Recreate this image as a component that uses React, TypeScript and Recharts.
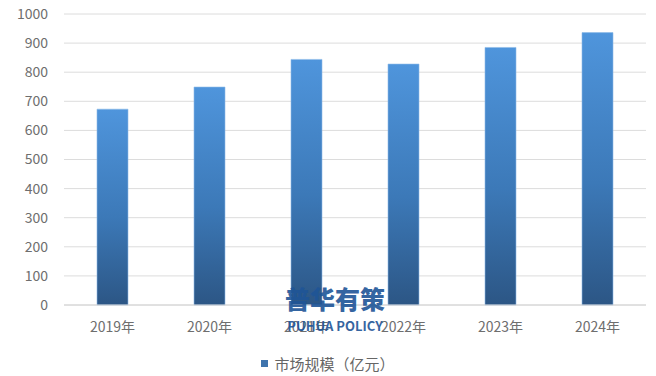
import React from 'react';
import { BarChart, Bar, XAxis, YAxis, CartesianGrid } from 'recharts';

// 市场规模（亿元），逐年
const YEARS = ['2019年', '2020年', '2021年', '2022年', '2023年', '2024年'];
const MARKET_SIZE = [673, 749, 844, 828, 885, 936];
const Y_TICKS = [0, 100, 200, 300, 400, 500, 600, 700, 800, 900, 1000];

const SERIES_NAME = '市场规模（亿元）';
const FONT = '"Noto Sans CJK SC", "Noto Sans", sans-serif';

const chartData = YEARS.map((year, i) => ({ year, value: MARKET_SIZE[i] }));

const App: React.FC = () => {
  return (
    <div style={{ position: 'fixed', left: 0, top: 0, width: 656, height: 376, background: '#fff' }}>
      <BarChart
        width={656}
        height={376}
        data={chartData}
        margin={{ top: 14, right: 10, left: 0, bottom: 41 }}
      >
        <defs>
          <linearGradient id="barFill" x1="0" y1="0" x2="0" y2="1">
            <stop offset="0%" stopColor="#4f95dc" />
            <stop offset="55%" stopColor="#3c79b8" />
            <stop offset="100%" stopColor="#2c5685" />
          </linearGradient>
        </defs>
        <CartesianGrid vertical={false} stroke="#dcdcdc" />
        <XAxis
          dataKey="year"
          height={30}
          axisLine={{ stroke: '#d4d4d4' }}
          tickLine={false}
          tickSize={6}
          tickMargin={11}
          tick={{ fill: '#6e6e6e', fontSize: 14, fontFamily: FONT }}
          interval={0}
        />
        <YAxis
          width={64}
          domain={[0, 1000]}
          ticks={Y_TICKS}
          axisLine={false}
          tickLine={false}
          tickSize={6}
          tickMargin={10}
          tick={{ fill: '#6e6e6e', fontSize: 14, fontFamily: FONT }}
        />
        <Bar
          dataKey="value"
          name={SERIES_NAME}
          fill="url(#barFill)"
          stroke="#8dbbe8"
          strokeWidth={0.6}
          barSize={31}
          isAnimationActive={false}
        />
      </BarChart>
      {/* legend */}
      <div
        style={{
          position: 'absolute',
          left: 0,
          top: 353,
          width: 656,
          display: 'flex',
          justifyContent: 'center',
          alignItems: 'center',
          fontFamily: FONT,
          fontSize: 15,
          color: '#666',
        }}
      >
        <span style={{ display: 'inline-block', width: 7, height: 7, background: '#3f74ad', marginRight: 6 }} />
        <span>{SERIES_NAME}</span>
      </div>
      {/* watermark */}
      <div
        style={{
          position: 'absolute',
          left: 283,
          top: 282,
          width: 104,
          textAlign: 'center',
          color: '#1f5597',
          opacity: 0.9,
          fontFamily: FONT,
          pointerEvents: 'none',
        }}
      >
        <div style={{ fontSize: 25, fontWeight: 900, lineHeight: '32px' }}>普华有策</div>
        <div style={{ fontSize: 13, fontWeight: 700, lineHeight: '14px', marginTop: 5 }}>PUHUA POLICY</div>
      </div>
    </div>
  );
};

export default App;
